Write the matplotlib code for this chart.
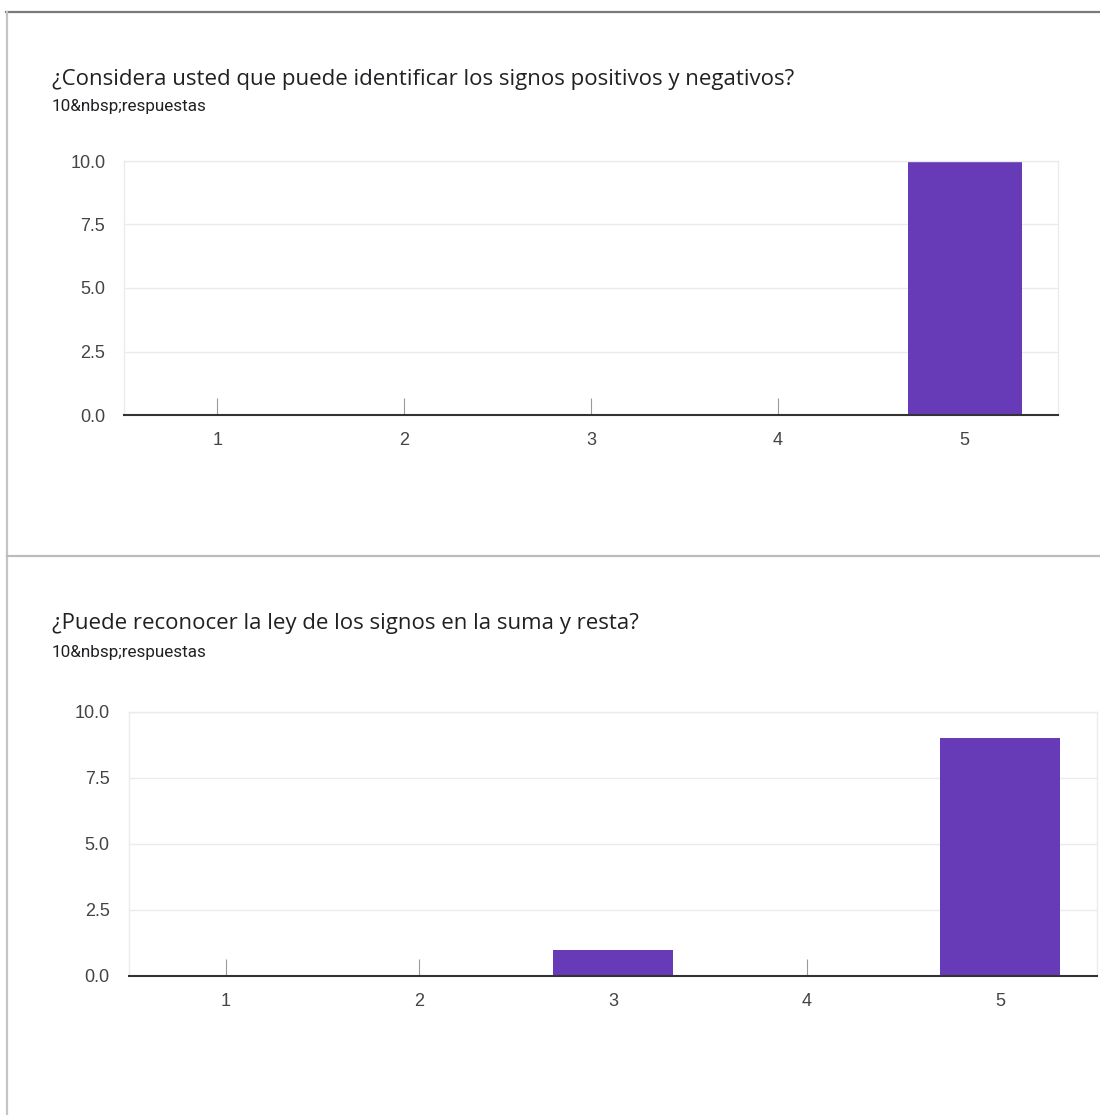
import matplotlib.pyplot as plt
from matplotlib.lines import Line2D

W, H = 1100, 1115

categorias = [1, 2, 3, 4, 5]
titulo_1 = "¿Considera usted que puede identificar los signos positivos y negativos?"
titulo_2 = "¿Puede reconocer la ley de los signos en la suma y resta?"
subtitulo = "10&nbsp;respuestas"
valores_1 = [0, 0, 0, 0, 10]
valores_2 = [0, 0, 1, 0, 9]
yticks = [0, 2.5, 5, 7.5, 10]
ytick_labels = ["0.0", "2.5", "5.0", "7.5", "10.0"]

morado = '#673ab7'

fig = plt.figure(figsize=(W / 100, H / 100), dpi=100)


def caja(x0, y0, x1, y1):
    # pixeles (origen arriba a la izquierda) -> fraccion de figura
    return [x0 / W, 1 - y1 / H, (x1 - x0) / W, (y1 - y0) / H]


def linea(x0, y0, x1, y1, color, lw):
    fig.add_artist(Line2D([x0 / W, x1 / W], [1 - y0 / H, 1 - y1 / H],
                          transform=fig.transFigure, color=color, lw=lw))


# bordes de las tarjetas
linea(6, 12, W, 12, '#7a7a7a', 1.6)
linea(7, 12, 7, H, '#c4c4c4', 1.6)
linea(7, 556, W, 556, '#bcbcbc', 1.6)


def grafica(rect, valores, ancho, pad_y, titulo, y_tit, y_sub):
    fig.text(52 / W, 1 - y_tit / H, titulo, fontsize=16, family='Open Sans',
             color='#202124', va='center', ha='left')
    fig.text(52 / W, 1 - y_sub / H, subtitulo, fontsize=12.3, family='Roboto',
             color='#202124', va='center', ha='left')
    ax = fig.add_axes(caja(*rect))
    ax.bar(categorias, valores, width=ancho, color=morado, zorder=2)
    ax.set_xlim(0.5, 5.5)
    ax.set_ylim(0, 10)
    ax.set_yticks(yticks)
    ax.set_yticklabels(ytick_labels)
    ax.set_xticks(categorias)
    ax.set_xticklabels([str(c) for c in categorias])
    ax.grid(axis='y', color='#ebebeb', lw=1.0)
    ax.set_axisbelow(True)
    for s in ['left', 'right', 'top']:
        ax.spines[s].set_color('#ebebeb')
        ax.spines[s].set_linewidth(1.0)
    ax.spines['bottom'].set_color('#333333')
    ax.spines['bottom'].set_linewidth(1.5)
    ax.tick_params(axis='y', length=0, pad=pad_y, labelsize=13,
                   labelcolor='#444444')
    ax.tick_params(axis='x', direction='in', length=12.5, width=0.8,
                   color='#9a9a9a', pad=12, labelsize=13, labelcolor='#444444')
    for t in ax.get_xticklabels() + ax.get_yticklabels():
        t.set_family('Liberation Sans')
    return ax


grafica((124, 161, 1058, 415), valores_1, 0.61, 13.5, titulo_1, 80, 107)
grafica((129, 712, 1097, 976), valores_2, 0.62, 14, titulo_2, 624, 652)

fig.savefig('out.png', dpi=100, facecolor='white')
